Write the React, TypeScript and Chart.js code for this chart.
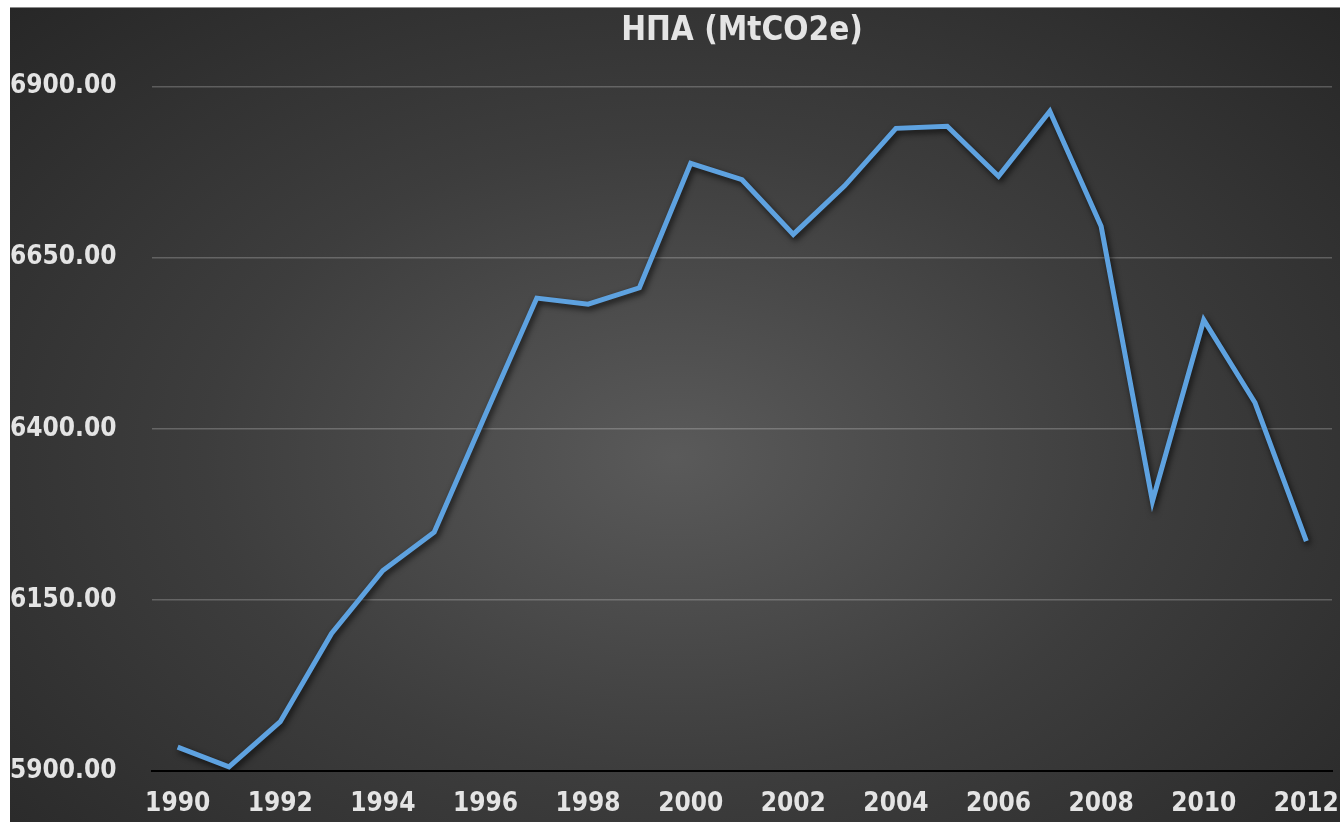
import React, { useEffect, useRef } from "react";
import { Chart, registerables } from "chart.js";

Chart.register(...registerables);

const years: string[] = [
  "1990", "1991", "1992", "1993", "1994", "1995", "1996", "1997", "1998", "1999", "2000",
  "2001", "2002", "2003", "2004", "2005", "2006", "2007", "2008", "2009", "2010", "2011", "2012",
];

const emissions: number[] = [
  5935, 5906, 5972, 6101, 6193, 6249, 6421, 6591, 6582, 6606, 6788,
  6764, 6684, 6755, 6839, 6842, 6769, 6864, 6696, 6294, 6559, 6438, 6236,
];

const yMin = 5900;
const yMax = 6900;
const yStep = 250;
const titleText = "НПА (MtCO2e)";

const FONT = "'DejaVu Sans Condensed', 'DejaVu Sans', sans-serif";
const TEXT_COLOR = "#e4e4e4";

const shadowPlugin = {
  id: "lineShadow",
  beforeDatasetsDraw(chart: any) {
    const ctx = chart.ctx;
    ctx.save();
    ctx.shadowColor = "rgba(0,0,0,0.75)";
    ctx.shadowBlur = 6;
    ctx.shadowOffsetX = 2;
    ctx.shadowOffsetY = 3;
  },
  afterDatasetsDraw(chart: any) {
    chart.ctx.restore();
  },
};

export default function App() {
  const ref = useRef<HTMLCanvasElement | null>(null);

  useEffect(() => {
    if (!ref.current) return;
    const chart = new Chart(ref.current, {
      type: "line",
      data: {
        labels: years,
        datasets: [
          {
            label: titleText,
            data: emissions,
            borderColor: "#5ea2e0",
            borderWidth: 5,
            pointRadius: 0,
            tension: 0,
            fill: false,
          },
        ],
      },
      plugins: [shadowPlugin],
      options: {
        responsive: false,
        animation: false,
        layout: { padding: { left: 0, right: 8, top: 0, bottom: 0 } },
        plugins: {
          legend: { display: false },
          tooltip: { enabled: false },
          title: {
            display: true,
            text: titleText,
            fullSize: false,
            color: TEXT_COLOR,
            font: { family: FONT, size: 33, weight: "bold" },
            padding: { top: 4, bottom: 35 },
          },
        },
        scales: {
          x: {
            offset: true,
            grid: { display: false, drawTicks: false },
            border: { display: true, color: "#000000", width: 2 },
            ticks: {
              color: TEXT_COLOR,
              font: { family: FONT, size: 26, weight: "bold" },
              autoSkip: false,
              maxRotation: 0,
              padding: 18,
              callback: function (_v: any, i: number) {
                return i % 2 === 0 ? years[i] : "";
              },
            },
            afterFit(scale: any) {
              scale.height = 51;
              scale.paddingRight = 0;
              scale.paddingLeft = 0;
            },
          },
          y: {
            min: yMin,
            max: yMax,
            grid: {
              color: "rgba(255,255,255,0.22)",
              lineWidth: 1.5,
              drawTicks: false,
            },
            border: { display: false },
            ticks: {
              stepSize: yStep,
              color: TEXT_COLOR,
              crossAlign: "far",
              font: { family: FONT, size: 26, weight: "bold" },
              padding: 25,
              callback: (v: any) => Number(v).toFixed(2),
            },
            afterFit(scale: any) {
              scale.width = 142;
            },
          },
        },
      } as any,
    });
    return () => chart.destroy();
  }, []);

  return (
    <div
      style={{
        position: "absolute",
        left: 10,
        top: 7,
        width: 1330,
        height: 815,
        borderTop: "1px solid #8a8a8a",
        background:
          "radial-gradient(ellipse farthest-corner at 50% 55%, #5a5a5a 0%, #3d3d3d 50%, #272727 100%)",
      }}
    >
      <canvas ref={ref} width={1330} height={814} style={{ display: "block", width: 1330, height: 814 }} />
    </div>
  );
}
